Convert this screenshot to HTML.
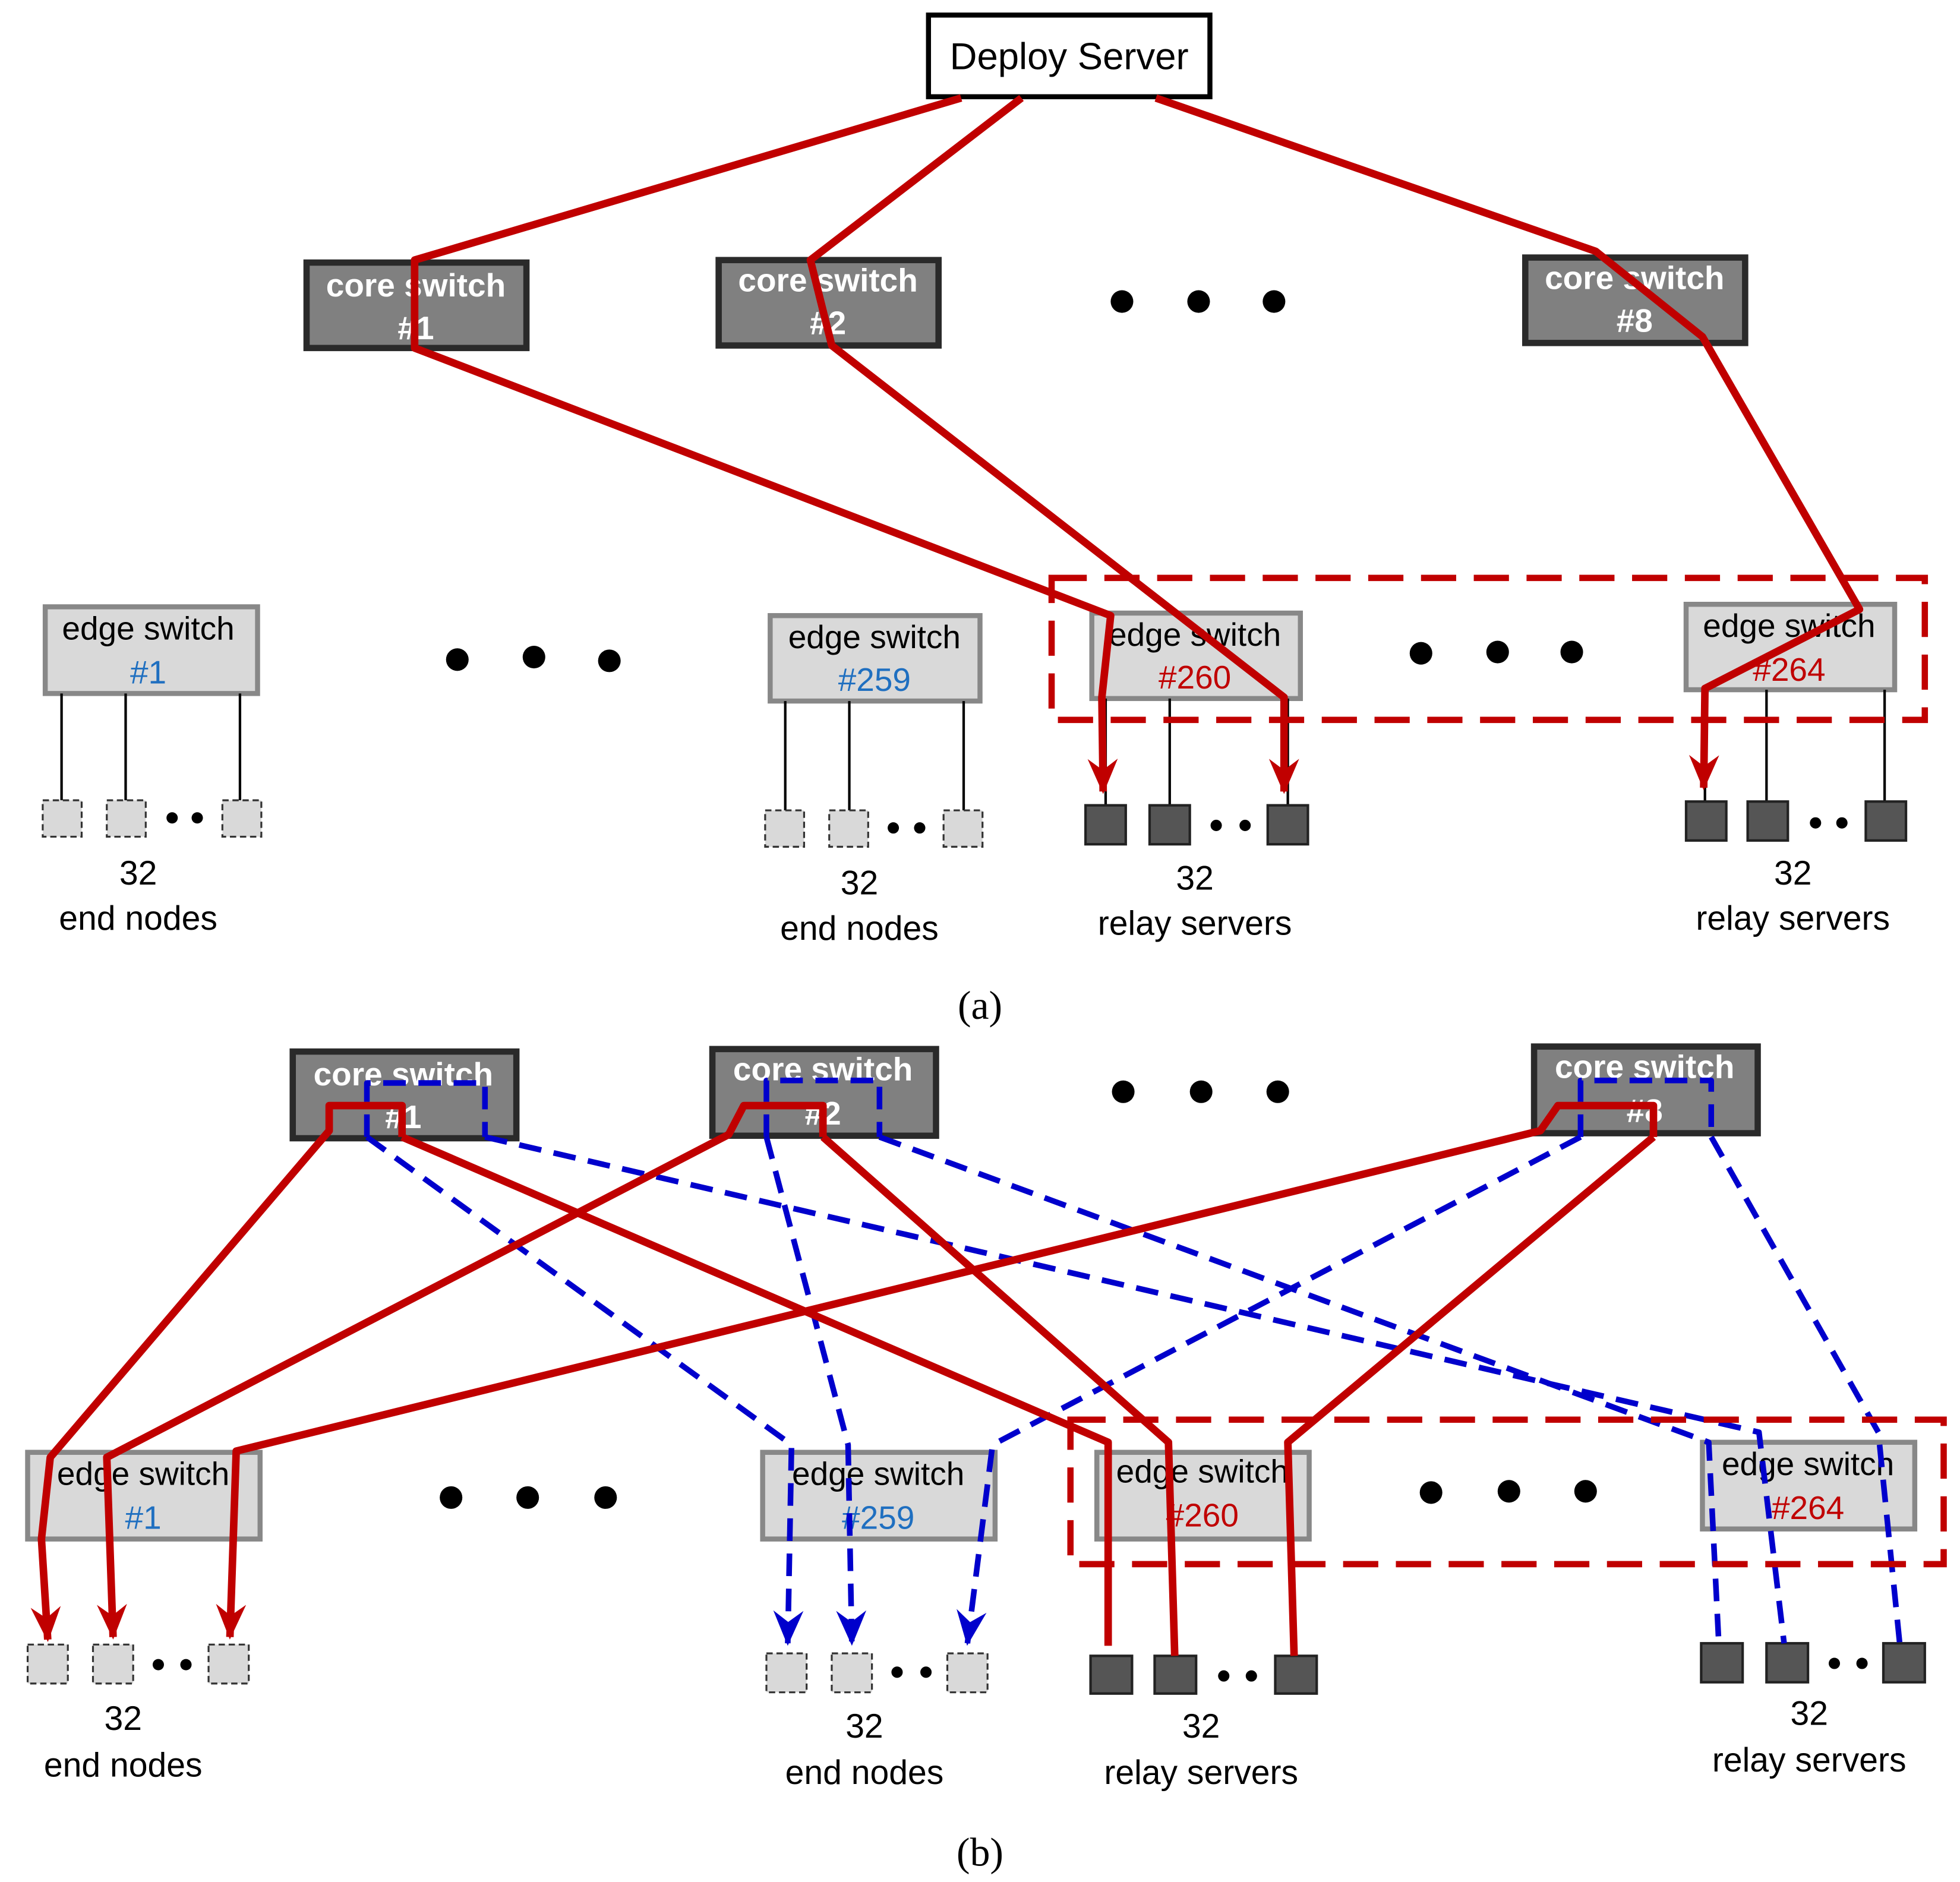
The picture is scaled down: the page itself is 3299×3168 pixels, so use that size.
<!DOCTYPE html>
<html><head><meta charset="utf-8"><style>
html,body{margin:0;padding:0;background:#fff}
svg{display:block}
text{font-family:"Liberation Sans",sans-serif}
</style></head><body>
<svg width="3299" height="3168" viewBox="0 0 1560 1498" preserveAspectRatio="none" xmlns="http://www.w3.org/2000/svg">
<defs>
<marker id="ar" markerWidth="30" markerHeight="24" refX="26" refY="12" orient="auto" markerUnits="userSpaceOnUse">
<path d="M0,0 L28,12 L0,24 L9,12 z" fill="#c00000"/></marker>
<marker id="ab" markerWidth="30" markerHeight="24" refX="26" refY="12" orient="auto" markerUnits="userSpaceOnUse">
<path d="M0,0 L28,12 L0,24 L9,12 z" fill="#0000cc"/></marker>
</defs>

<!-- ===== (a) ===== -->
<rect x="739" y="12" width="224" height="65" fill="#fff" stroke="#000" stroke-width="4"/>
<text x="851" y="55" font-size="30" text-anchor="middle">Deploy Server</text>

<g fill="#808080" stroke="#2a2a2a" stroke-width="5">
<rect x="244" y="209" width="175" height="68"/>
<rect x="572" y="207" width="175" height="68"/>
<rect x="1214" y="205" width="175" height="68"/>
</g>
<g fill="#fff" font-weight="bold" font-size="26" text-anchor="middle">
<text x="331" y="236">core switch</text><text x="331" y="270">#1</text>
<text x="659" y="232">core switch</text><text x="659" y="266">#2</text>
<text x="1301" y="230">core switch</text><text x="1301" y="264">#8</text>
</g>
<g fill="#000"><circle cx="893" cy="240" r="9"/><circle cx="954" cy="240" r="9"/><circle cx="1014" cy="240" r="9"/>
<circle cx="364" cy="525" r="9"/><circle cx="425" cy="523" r="9"/><circle cx="485" cy="526" r="9"/>
<circle cx="1131" cy="520" r="9"/><circle cx="1192" cy="519" r="9"/><circle cx="1251" cy="519" r="9"/></g>

<g fill="#d9d9d9" stroke="#888" stroke-width="4">
<rect x="36" y="483" width="169" height="69"/>
<rect x="613" y="490" width="167" height="68"/>
<rect x="869" y="488" width="166" height="68"/>
<rect x="1342" y="481" width="166" height="68"/>
</g>
<g font-size="26" text-anchor="middle">
<text x="118" y="509">edge switch</text><text x="118" y="544" fill="#1f6fc0">#1</text>
<text x="696" y="516">edge switch</text><text x="696" y="550" fill="#1f6fc0">#259</text>
<text x="951" y="514">edge switch</text><text x="951" y="548" fill="#c00000">#260</text>
<text x="1424" y="507">edge switch</text><text x="1424" y="542" fill="#c00000">#264</text>
</g>

<g stroke="#000" stroke-width="2">
<line x1="49" y1="552" x2="49" y2="637"/><line x1="100" y1="552" x2="100" y2="637"/><line x1="191" y1="552" x2="191" y2="637"/>
<line x1="625" y1="558" x2="625" y2="645"/><line x1="676" y1="558" x2="676" y2="645"/><line x1="767" y1="558" x2="767" y2="645"/>
<line x1="880" y1="556" x2="880" y2="641"/><line x1="931" y1="556" x2="931" y2="641"/><line x1="1025" y1="556" x2="1025" y2="641"/>
<line x1="1357" y1="549" x2="1357" y2="638"/><line x1="1406" y1="549" x2="1406" y2="638"/><line x1="1500" y1="549" x2="1500" y2="638"/>
</g>
<g fill="#d9d9d9" stroke="#333" stroke-width="1.5" stroke-dasharray="5,3">
<rect x="34" y="637" width="31" height="29"/><rect x="85" y="637" width="31" height="29"/><rect x="177" y="637" width="31" height="29"/>
<rect x="609" y="645" width="31" height="29"/><rect x="660" y="645" width="31" height="29"/><rect x="751" y="645" width="31" height="29"/>
</g>
<g fill="#555" stroke="#222" stroke-width="2">
<rect x="864" y="641" width="32" height="31"/><rect x="915" y="641" width="32" height="31"/><rect x="1009" y="641" width="32" height="31"/>
<rect x="1342" y="638" width="32" height="31"/><rect x="1391" y="638" width="32" height="31"/><rect x="1485" y="638" width="32" height="31"/>
</g>
<g fill="#000">
<circle cx="137" cy="651" r="4.5"/><circle cx="157" cy="651" r="4.5"/>
<circle cx="711" cy="659" r="4.5"/><circle cx="732" cy="659" r="4.5"/>
<circle cx="968" cy="657" r="4.5"/><circle cx="991" cy="657" r="4.5"/>
<circle cx="1445" cy="655" r="4.5"/><circle cx="1466" cy="655" r="4.5"/>
</g>
<g font-size="27" text-anchor="middle">
<text x="110" y="704">32</text><text x="110" y="740">end nodes</text>
<text x="684" y="712">32</text><text x="684" y="748">end nodes</text>
<text x="951" y="708">32</text><text x="951" y="744">relay servers</text>
<text x="1427" y="704">32</text><text x="1427" y="740">relay servers</text>
</g>
<rect x="837" y="460" width="695" height="113" fill="none" stroke="#c00000" stroke-width="5" stroke-dasharray="28,14"/>
<g fill="none" stroke="#c00000" stroke-width="6" stroke-linejoin="round">
<polyline points="765,78 330,207 330,277 884,490 877,555 878,630" marker-end="url(#ar)"/>
<polyline points="813,78 645,207 662,275 1022,555 1022,630" marker-end="url(#ar)"/>
<polyline points="920,78 1270,200 1355,268 1480,485 1357,548 1356,627" marker-end="url(#ar)"/>
</g>
<text x="780" y="811" font-size="32" text-anchor="middle" style="font-family:'Liberation Serif',serif">(a)</text>

<!-- ===== (b) ===== -->
<g fill="#808080" stroke="#2a2a2a" stroke-width="5">
<rect x="233" y="837" width="178" height="69"/>
<rect x="567" y="835" width="178" height="69"/>
<rect x="1221" y="833" width="178" height="69"/>
</g>
<g fill="#fff" font-weight="bold" font-size="26" text-anchor="middle">
<text x="321" y="864">core switch</text><text x="321" y="898">#1</text>
<text x="655" y="860">core switch</text><text x="655" y="895">#2</text>
<text x="1309" y="858">core switch</text><text x="1309" y="893">#8</text>
</g>
<g fill="#000"><circle cx="894" cy="869" r="9"/><circle cx="956" cy="869" r="9"/><circle cx="1017" cy="869" r="9"/>
<circle cx="359" cy="1192" r="9"/><circle cx="420" cy="1192" r="9"/><circle cx="482" cy="1192" r="9"/>
<circle cx="1139" cy="1188" r="9"/><circle cx="1201" cy="1187" r="9"/><circle cx="1262" cy="1187" r="9"/></g>
<g fill="#d9d9d9" stroke="#888" stroke-width="4">
<rect x="22" y="1156" width="185" height="69"/>
<rect x="607" y="1156" width="185" height="69"/>
<rect x="873" y="1156" width="169" height="69"/>
<rect x="1355" y="1148" width="169" height="69"/>
</g>
<g font-size="26" text-anchor="middle">
<text x="114" y="1182">edge switch</text><text x="114" y="1217" fill="#1f6fc0">#1</text>
<text x="699" y="1182">edge switch</text><text x="699" y="1217" fill="#1f6fc0">#259</text>
<text x="957" y="1180">edge switch</text><text x="957" y="1215" fill="#c00000">#260</text>
<text x="1439" y="1174">edge switch</text><text x="1439" y="1209" fill="#c00000">#264</text>
</g>
<g fill="#d9d9d9" stroke="#333" stroke-width="1.5" stroke-dasharray="5,3">
<rect x="22" y="1309" width="32" height="31"/><rect x="74" y="1309" width="32" height="31"/><rect x="166" y="1309" width="32" height="31"/>
<rect x="610" y="1316" width="32" height="31"/><rect x="662" y="1316" width="32" height="31"/><rect x="754" y="1316" width="32" height="31"/>
</g>
<g fill="#555" stroke="#222" stroke-width="2">
<rect x="868" y="1318" width="33" height="30"/><rect x="919" y="1318" width="33" height="30"/><rect x="1015" y="1318" width="33" height="30"/>
<rect x="1354" y="1308" width="33" height="31"/><rect x="1406" y="1308" width="33" height="31"/><rect x="1499" y="1308" width="33" height="31"/>
</g>
<g fill="#000">
<circle cx="126" cy="1325" r="4.5"/><circle cx="148" cy="1325" r="4.5"/>
<circle cx="714" cy="1331" r="4.5"/><circle cx="737" cy="1331" r="4.5"/>
<circle cx="974" cy="1334" r="4.5"/><circle cx="996" cy="1334" r="4.5"/>
<circle cx="1460" cy="1324" r="4.5"/><circle cx="1482" cy="1324" r="4.5"/>
</g>
<g font-size="27" text-anchor="middle">
<text x="98" y="1377">32</text><text x="98" y="1414">end nodes</text>
<text x="688" y="1383">32</text><text x="688" y="1420">end nodes</text>
<text x="956" y="1383">32</text><text x="956" y="1420">relay servers</text>
<text x="1440" y="1373">32</text><text x="1440" y="1410">relay servers</text>
</g>
<g fill="none" stroke="#0000cc" stroke-width="4.5" stroke-dasharray="18,10" stroke-linejoin="round">
<polyline points="292,905 292,862 386,862 386,905"/>
<polyline points="610,905 610,860 700,860 700,905"/>
<polyline points="1258,905 1258,860 1362,860 1362,905"/>
<polyline points="292,905 630,1150 627,1308" marker-end="url(#ab)"/>
<polyline points="386,905 1400,1140 1420,1308"/>
<polyline points="610,905 675,1150 678,1308" marker-end="url(#ab)"/>
<polyline points="700,905 1360,1148 1368,1308"/>
<polyline points="1258,905 790,1150 770,1308" marker-end="url(#ab)"/>
<polyline points="1362,905 1495,1140 1512,1308"/>
</g>
<rect x="852" y="1130" width="695" height="115" fill="none" stroke="#c00000" stroke-width="5" stroke-dasharray="28,14"/>
<g fill="none" stroke="#c00000" stroke-width="6" stroke-linejoin="round">
<polyline points="320,905 320,880 262,880 262,900 40,1160 33,1225 38,1305" marker-end="url(#ar)"/>
<polyline points="320,905 882,1148 882,1310"/>
<polyline points="655,905 655,880 592,880 580,903 85,1160 90,1303" marker-end="url(#ar)"/>
<polyline points="655,905 930,1148 935,1318"/>
<polyline points="1316,905 1316,880 1240,880 1226,900 188,1155 183,1303" marker-end="url(#ar)"/>
<polyline points="1316,905 1025,1148 1030,1318"/>
</g>
<text x="780" y="1485" font-size="32" text-anchor="middle" style="font-family:'Liberation Serif',serif">(b)</text>
</svg>
</body></html>
